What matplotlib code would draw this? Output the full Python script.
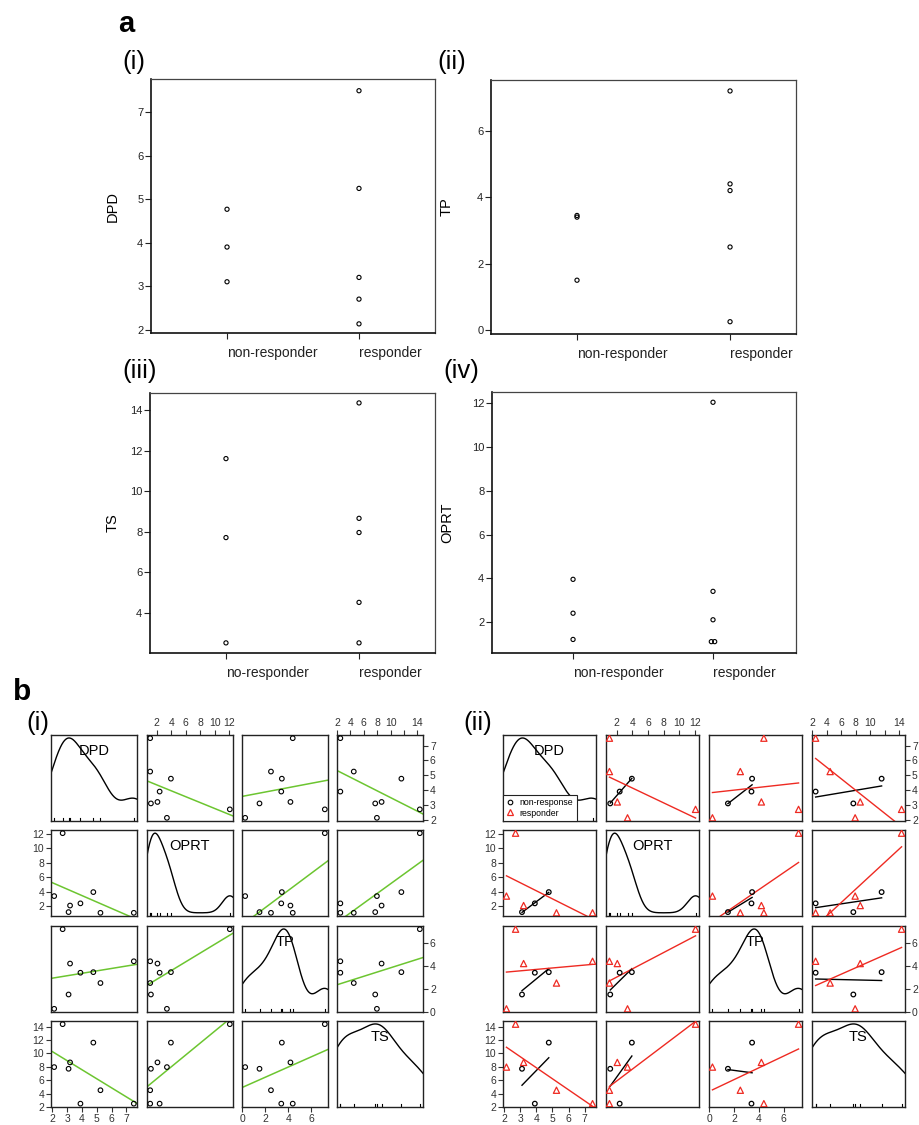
"""Dot plots (a) and scatterplot matrices (b) for responder / non-responder data."""

import numpy as np
import matplotlib

matplotlib.use("Agg")
import matplotlib.pyplot as plt
from matplotlib.lines import Line2D

plt.rcParams["font.family"] = ["Liberation Sans", "DejaVu Sans"]

# ---- data (one row per subject) ----
group = np.array(["non", "non", "non", "resp", "resp", "resp", "resp", "resp"])
dpd = np.array([3.1, 3.9, 4.77, 7.5, 5.25, 3.2, 2.13, 2.7])
oprt = np.array([1.2, 2.4, 3.95, 1.1, 1.1, 2.1, 3.4, 12.05])
tp = np.array([1.5, 3.4, 3.45, 4.4, 2.5, 4.2, 0.25, 7.2])
ts = np.array([7.7, 2.5, 11.6, 2.5, 4.5, 8.65, 7.95, 14.35])

var_names = ["DPD", "OPRT", "TP", "TS"]
var_ticks = [[2, 3, 4, 5, 6, 7], [2, 4, 6, 8, 10, 12], [0, 2, 4, 6],
             [2, 4, 6, 8, 10, 12, 14]]
cats = ["non-responder", "responder"]
cats_ts = ["no-responder", "responder"]
legend_labels = ["non-response", "responder"]

W, H = 920, 1125
GREEN = "#6cc530"
RED = "#ee2a22"
DARK = "#222222"


def rect(x0, y0, x1, y1):
    return [x0 / W, 1 - y1 / H, (x1 - x0) / W, (y1 - y0) / H]


fig = plt.figure(figsize=(W / 100, H / 100), dpi=100)

# ---------------- panel a ----------------
panels_a = [
    (dpd, "DPD", (151, 79, 435, 333), (1.92, 7.77), [2, 3, 4, 5, 6, 7], (0.424, 2.576), cats, 120),
    (tp, "TP", (491, 80, 796, 334), (-0.12, 7.53), [0, 2, 4, 6], (0.438, 2.431), cats, 454),
    (ts, "TS", (150, 393, 435, 653), (2.0, 14.84), [4, 6, 8, 10, 12, 14], (0.429, 2.571), cats_ts, 120),
    (oprt, "OPRT", (492, 392, 796, 653), (0.58, 12.52), [2, 4, 6, 8, 10, 12], (0.421, 2.593), cats, 454),
]

for vals, name, box, ylim, yt, xlim, labels, ylab_x in panels_a:
    ax = fig.add_axes(rect(*box))
    for k, g in enumerate(["non", "resp"]):
        v = vals[group == g]
        xs = np.full(len(v), k + 1.0)
        # side-by-side for tied values
        for u in np.unique(v):
            idx = np.where(v == u)[0]
            if len(idx) > 1:
                xs[idx] += (np.arange(len(idx)) - (len(idx) - 1) / 2) * 0.024
        ax.scatter(xs, v, s=9, facecolor="none", edgecolor="k", linewidth=0.8, zorder=3)
    ax.set_xlim(xlim)
    ax.set_ylim(ylim)
    ax.set_yticks(yt)
    ax.set_xticks([1, 2])
    ax.set_xticklabels(labels, ha="left")
    ax.tick_params(axis="y", length=4, width=0.8, labelsize=8, pad=1.5, colors=DARK)
    ax.tick_params(axis="x", length=4.5, width=0.8, labelsize=10, pad=5, colors=DARK)
    for s in ["top", "right"]:
        ax.spines[s].set_linewidth(0.9)
        ax.spines[s].set_color("#444444")
    for s in ["left", "bottom"]:
        ax.spines[s].set_linewidth(1.2)
        ax.spines[s].set_color("#111111")
    ax.set_ylabel(name, fontsize=10.5)
    ax.yaxis.set_label_coords((ylab_x - box[0]) / (box[2] - box[0]), 0.5)

fig.text(118 / W, 1 - 32 / H, "a", fontsize=21, fontweight="bold", va="baseline")
for txt, x, y in [("(i)", 122, 69), ("(ii)", 437, 69), ("(iii)", 122, 378), ("(iv)", 443, 378)]:
    fig.text(x / W, 1 - y / H, txt, fontsize=18.5, va="baseline")

# ---------------- panel b ----------------
data = [dpd, oprt, tp, ts]


def padded(v):
    r = v.max() - v.min()
    return v.min() - 0.04 * r, v.max() + 0.04 * r


def density_curve(v):
    n = len(v)
    q1, q3 = np.percentile(v, [25, 75])
    bw = 0.9 * min(v.std(ddof=1), (q3 - q1) / 1.34) * n ** -0.2
    gx = np.linspace(v.min() - 3 * bw, v.max() + 3 * bw, 512)
    d = np.exp(-0.5 * ((gx[:, None] - v[None, :]) / bw) ** 2).sum(1) / (n * bw * np.sqrt(2 * np.pi))
    gy = v.min() + d * (v.max() - v.min()) / (d.max() - d.min())
    return gx, gy


def scatter_matrix(col_x, cell_w, by_group):
    row_y = [735, 830, 926, 1021]
    cell_h = 86
    lims = [padded(v) for v in data]
    for i in range(4):
        for j in range(4):
            x0, y0 = col_x[j], row_y[i]
            ax = fig.add_axes(rect(x0, y0, x0 + cell_w, y0 + cell_h))
            ax.set_xlim(lims[j])
            ax.set_ylim(lims[i] if i != j else lims[j])
            ax.set_xticks(var_ticks[j])
            ax.set_yticks(var_ticks[i])
            ax.tick_params(which="both", bottom=False, top=False, left=False, right=False,
                           labelbottom=False, labeltop=False, labelleft=False, labelright=False,
                           length=3.5, width=0.8, labelsize=7.5, pad=1.5, colors="#333333")
            for s in ax.spines.values():
                s.set_linewidth(1.0)
                s.set_color(DARK)
            if i == 0 and j % 2 == 1:
                ax.tick_params(top=True, labeltop=True)
                if var_names[j] == "TS":
                    ax.set_xticklabels(["" if t == 12 else str(t) for t in var_ticks[j]])
            if i == 3 and j % 2 == 0:
                ax.tick_params(bottom=True, labelbottom=True)
            if j == 0 and i % 2 == 1:
                ax.tick_params(left=True, labelleft=True)
            if j == 3 and i % 2 == 0:
                ax.tick_params(right=True, labelright=True)

            if i == j:
                v = data[j]
                gx, gy = density_curve(v)
                ax.plot(gx, gy, color="k", lw=1.0)
                for xv in v:
                    ax.plot([xv, xv], [0, 0.035], color="k", lw=0.8,
                            transform=ax.get_xaxis_transform())
                ax.text(0.5, 0.81, var_names[j], transform=ax.transAxes, fontsize=10.5,
                        ha="center", va="center")
                if by_group and i == 0:
                    handles = [
                        Line2D([], [], marker="o", ls="none", mfc="none", mec="k", ms=3.3, mew=0.8),
                        Line2D([], [], marker="^", ls="none", mfc="none", mec=RED, ms=4.3, mew=0.9),
                    ]
                    leg = ax.legend(handles, legend_labels, loc="lower left", fontsize=6.3,
                                    borderaxespad=0, fancybox=False, framealpha=1,
                                    edgecolor=DARK, handlelength=0.8, handletextpad=0.7,
                                    borderpad=0.4, labelspacing=0.15)
                    leg.get_frame().set_linewidth(0.8)
                continue

            xv, yv = data[j], data[i]
            if not by_group:
                ax.scatter(xv, yv, s=11, facecolor="none", edgecolor="k", linewidth=0.8, zorder=3)
                b1, b0 = np.polyfit(xv, yv, 1)
                xl = np.array(lims[j])
                ax.plot(xl, b0 + b1 * xl, color=GREEN, lw=1.1)
            else:
                for g, mk, col, sz in [("non", "o", "k", 11), ("resp", "^", RED, 20)]:
                    m = group == g
                    ax.scatter(xv[m], yv[m], s=sz, marker=mk, facecolor="none", edgecolor=col,
                               linewidth=0.9, zorder=3)
                    b1, b0 = np.polyfit(xv[m], yv[m], 1)
                    xl = np.array([xv[m].min(), xv[m].max()])
                    ax.plot(xl, b0 + b1 * xl, color=col, lw=1.0)


scatter_matrix([51, 147, 242, 337], 86, by_group=False)
scatter_matrix([503, 606, 709, 812], 93, by_group=True)

fig.text(13 / W, 1 - 700 / H, "b", fontsize=21.5, fontweight="bold", va="baseline")
fig.text(26 / W, 1 - 730 / H, "(i)", fontsize=18.5, va="baseline")
fig.text(463 / W, 1 - 730 / H, "(ii)", fontsize=18.5, va="baseline")

fig.savefig("out.png", dpi=100)
